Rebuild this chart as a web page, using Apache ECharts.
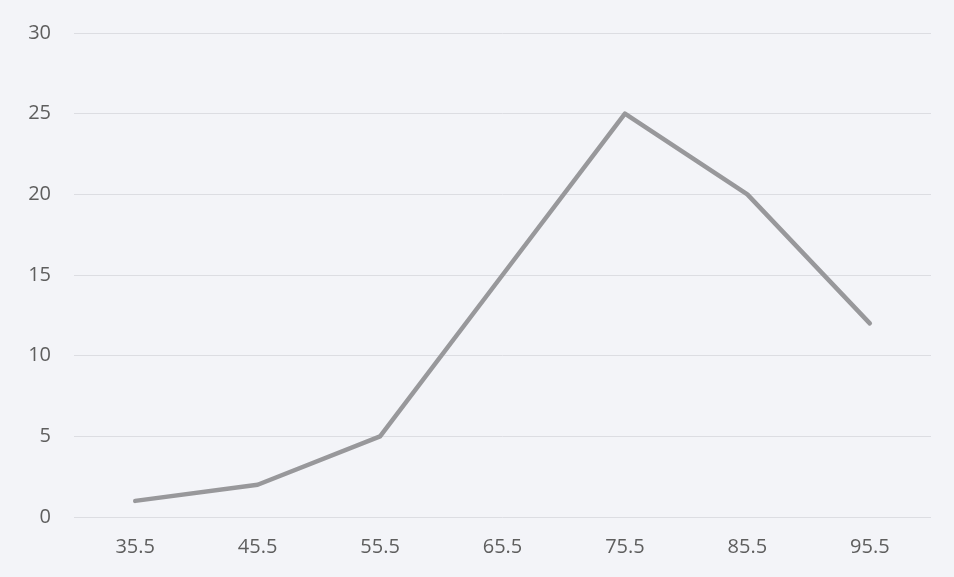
<!DOCTYPE html>
<html>
<head>
<meta charset="utf-8">
<script src="https://cdn.jsdelivr.net/npm/echarts@6/dist/echarts.min.js"></script>
<style>
  html, body { margin: 0; padding: 0; background: #f3f4f8; }
  #chart { width: 954px; height: 577px; }
</style>
</head>
<body>
<div id="chart"></div>
<script>
// Class midpoints and their frequencies
const categories = ['35.5', '45.5', '55.5', '65.5', '75.5', '85.5', '95.5'];
const frequencies = [1, 2, 5, 15, 25, 20, 12];
const yMin = 0;
const yMax = 30;
const yStep = 5;

const chart = echarts.init(document.getElementById('chart'));
chart.setOption({
  backgroundColor: '#f3f4f8',
  animation: false,
  grid: { left: 74, right: 23, top: 33, bottom: 60 },
  xAxis: {
    type: 'category',
    data: categories,
    boundaryGap: true,
    axisLine: { show: false },
    axisTick: { show: false },
    axisLabel: { color: '#5e5e5e', fontSize: 20, fontFamily: 'Open Sans', margin: 20 }
  },
  yAxis: {
    type: 'value',
    min: yMin,
    max: yMax,
    interval: yStep,
    axisLine: { show: false },
    axisTick: { show: false },
    axisLabel: { color: '#5e5e5e', fontSize: 20, fontFamily: 'Open Sans', margin: 23 },
    splitLine: { lineStyle: { color: '#dcdde2', width: 1 } }
  },
  series: [{
    type: 'line',
    data: frequencies,
    symbol: 'none',
    lineStyle: { color: '#98989b', width: 4.5, cap: 'round', join: 'round' }
  }]
});
</script>
</body>
</html>
